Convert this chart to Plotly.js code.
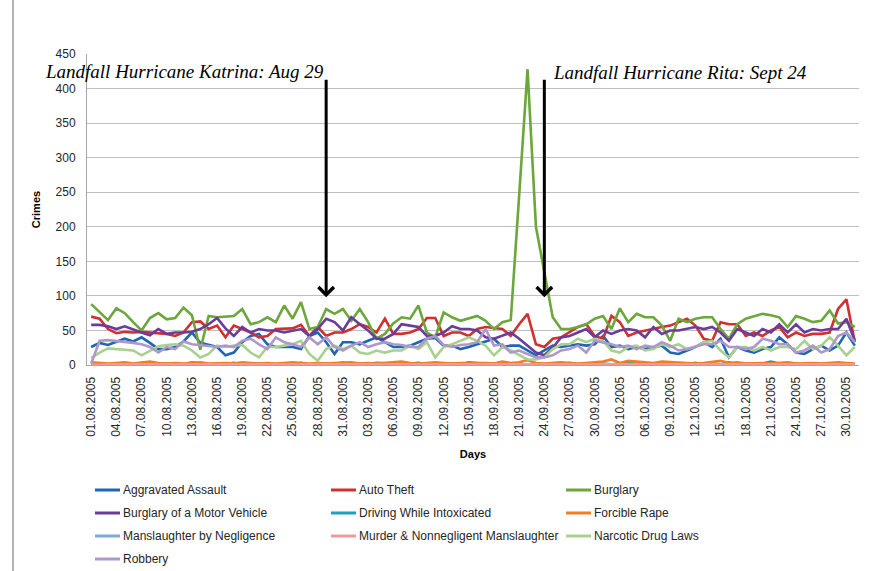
<!DOCTYPE html>
<html>
<head>
<meta charset="utf-8">
<script src="https://cdn.plot.ly/plotly-3.0.1.min.js"></script>
<style>html,body{margin:0;padding:0;background:#fff;}#chart{width:869px;height:571px;}</style>
</head>
<body>
<div id="chart"></div>
<script>
// Categories: one per day, 01.08.2005 - 31.10.2005
var days = [
"01.08.2005","02.08.2005","03.08.2005","04.08.2005","05.08.2005","06.08.2005","07.08.2005","08.08.2005","09.08.2005","10.08.2005",
"11.08.2005","12.08.2005","13.08.2005","14.08.2005","15.08.2005","16.08.2005","17.08.2005","18.08.2005","19.08.2005","20.08.2005",
"21.08.2005","22.08.2005","23.08.2005","24.08.2005","25.08.2005","26.08.2005","27.08.2005","28.08.2005","29.08.2005","30.08.2005",
"31.08.2005","01.09.2005","02.09.2005","03.09.2005","04.09.2005","05.09.2005","06.09.2005","07.09.2005","08.09.2005","09.09.2005",
"10.09.2005","11.09.2005","12.09.2005","13.09.2005","14.09.2005","15.09.2005","16.09.2005","17.09.2005","18.09.2005","19.09.2005",
"20.09.2005","21.09.2005","22.09.2005","23.09.2005","24.09.2005","25.09.2005","26.09.2005","27.09.2005","28.09.2005","29.09.2005",
"30.09.2005","01.10.2005","02.10.2005","03.10.2005","04.10.2005","05.10.2005","06.10.2005","07.10.2005","08.10.2005","09.10.2005",
"10.10.2005","11.10.2005","12.10.2005","13.10.2005","14.10.2005","15.10.2005","16.10.2005","17.10.2005","18.10.2005","19.10.2005",
"20.10.2005","21.10.2005","22.10.2005","23.10.2005","24.10.2005","25.10.2005","26.10.2005","27.10.2005","28.10.2005","29.10.2005",
"30.10.2005","31.10.2005"];

// Tick labels shown on the axis (every third day)
var tickLabels = ["01.08.2005","04.08.2005","07.08.2005","10.08.2005","13.08.2005","16.08.2005","19.08.2005","22.08.2005",
"25.08.2005","28.08.2005","31.08.2005","03.09.2005","06.09.2005","09.09.2005","12.09.2005","15.09.2005","18.09.2005",
"21.09.2005","24.09.2005","27.09.2005","30.09.2005","03.10.2005","06.10.2005","09.10.2005","12.10.2005","15.10.2005",
"18.10.2005","21.10.2005","24.10.2005","27.10.2005","30.10.2005"];

var aggravatedAssault = [26,32,29,33,38,34,40,32,23,23,26,34,47,32,29,26,14,18,33,42,
45,30,26,26,26,23,42,47,33,16,33,33,30,35,40,33,26,26,28,33,
38,39,28,28,23,26,30,35,38,26,28,28,21,14,21,28,26,28,30,28,
30,42,26,28,23,26,23,26,28,18,16,21,26,33,26,38,11,26,21,18,
23,26,40,30,18,16,23,28,21,28,47,28];

var autoTheft = [70,67,52,46,48,47,48,47,47,45,42,47,62,63,52,57,40,57,52,47,
40,42,52,53,53,58,42,55,42,47,47,52,59,55,47,67,45,45,47,52,
68,68,42,47,47,42,52,55,53,52,42,59,74,30,26,38,40,47,55,59,
42,38,71,62,42,47,50,52,55,57,62,67,57,38,35,62,59,59,42,47,
42,50,55,40,47,42,45,45,47,81,95,33];

var burglary = [88,77,65,82,75,62,50,68,75,66,68,83,72,22,71,69,70,71,81,59,
62,69,62,86,67,91,52,55,81,74,81,64,81,62,38,45,60,69,67,86,
47,40,76,69,64,67,71,64,52,62,65,245,428,200,135,69,52,52,55,59,
67,71,52,82,62,74,69,69,57,35,67,62,67,69,69,52,38,59,67,71,
74,72,69,55,71,67,62,64,79,60,62,55];

var burglaryMV = [58,58,56,52,56,51,47,43,52,45,47,47,48,52,59,68,53,42,55,47,
52,50,50,47,50,52,42,52,67,62,50,69,59,50,38,38,45,59,57,55,
42,42,47,56,52,52,50,40,38,42,47,38,28,18,14,25,40,42,47,52,
40,50,45,50,52,50,40,55,45,50,50,52,55,52,55,47,35,52,47,42,
52,47,59,47,59,47,52,50,52,52,67,35];

var dwi = [1,2,1,0,2,1,3,1,0,2,1,1,4,2,1,0,2,3,1,1,
2,0,1,2,1,3,1,0,2,1,4,1,2,1,3,2,1,1,2,3,
1,2,1,2,1,4,3,1,2,1,2,1,0,1,1,2,1,3,1,2,
1,2,1,2,3,2,1,2,1,2,1,1,3,1,2,1,4,1,2,1,
2,5,2,1,2,1,2,1,1,2,1,1];

var forcibleRape = [4,3,2,3,4,2,3,5,3,2,3,2,3,4,2,3,3,2,4,3,
2,3,2,3,4,3,2,3,2,3,3,4,2,3,2,3,4,5,3,2,
3,4,3,2,3,3,4,3,2,5,3,4,7,3,2,3,4,3,2,3,
4,5,8,3,6,5,4,3,5,4,3,3,2,3,4,6,3,4,2,3,
3,2,3,4,2,3,3,2,3,4,3,2];

var manslaughterNeg = [0,0,1,0,0,0,0,1,0,0,0,0,0,1,0,0,0,0,0,1,
0,0,0,0,1,0,0,0,0,0,1,0,0,0,0,0,1,0,0,0,
0,0,1,0,0,0,0,0,1,0,0,0,0,1,0,0,0,0,0,1,
0,0,0,0,1,0,0,0,0,0,0,1,0,0,0,0,0,1,0,0,
0,0,0,1,0,0,0,0,0,1,0,0];

var murder = [1,0,1,1,0,1,0,1,1,0,1,0,1,0,1,1,0,1,0,1,
1,0,1,0,1,0,1,1,0,1,0,1,1,0,1,0,1,0,1,1,
0,1,0,1,1,0,1,0,1,0,1,1,0,1,0,1,0,1,1,0,
1,0,1,1,0,1,0,1,0,1,1,0,1,0,1,0,1,1,0,1,
0,1,0,1,1,0,1,0,1,0,1,1];

var narcotics = [10,18,24,23,21,21,14,21,27,29,30,28,21,11,16,28,26,28,29,18,
11,26,26,28,30,35,16,6,23,28,23,28,18,16,21,18,21,21,28,23,
33,11,26,30,35,40,35,28,14,26,21,14,8,8,11,23,30,30,38,33,
38,35,21,18,26,28,21,23,30,26,30,23,26,33,35,21,11,26,26,21,
26,21,26,26,23,35,23,28,40,28,14,26];

var robbery = [2,35,36,35,34,32,30,26,18,26,23,34,30,29,28,26,28,26,35,38,
30,23,40,33,30,26,40,30,40,26,21,28,33,26,30,33,30,29,26,26,
38,42,29,26,29,30,33,52,28,30,18,21,16,11,11,14,21,23,28,18,
35,33,30,26,28,23,28,26,33,28,21,23,26,30,30,35,26,26,23,26,
38,35,30,30,18,21,28,18,23,42,47,33];

var seriesNames = ["Aggravated Assault","Auto Theft","Burglary","Burglary of a Motor Vehicle",
"Driving While Intoxicated","Forcible Rape","Manslaughter by Negligence",
"Murder & Nonnegligent Manslaughter","Narcotic Drug Laws","Robbery"];
var seriesValues = [aggravatedAssault, autoTheft, burglary, burglaryMV, dwi, forcibleRape,
manslaughterNeg, murder, narcotics, robbery];
var seriesColors = ["#1F66B2","#D22F2F","#6BA73A","#6A3C9C","#1FA0C0","#F47C24",
"#7FA9DC","#EE9A9A","#A9D18E","#AE98CB"];

var annotationTexts = ["Landfall Hurricane Katrina: Aug 29", "Landfall Hurricane Rita: Sept 24"];
var eventDays = ["29.08.2005", "24.09.2005"];

var traces = seriesNames.map(function(name, i) {
  return {
    type: "scatter", mode: "lines", name: name, showlegend: false,
    x: days, y: seriesValues[i],
    line: {color: seriesColors[i], width: 2.6}
  };
});

// geometry helpers (pixel -> paper)
var W = 869, H = 571, ML = 87, MR = 10, MT = 54, MB = 206;
var PW = W - ML - MR, PH = H - MT - MB;
function px(x) { return (x - ML) / PW; }
function py(y) { return (H - MB - y) / PH; }

var font = "Liberation Sans, Arial, sans-serif";
var serif = "Liberation Serif, Times New Roman, serif";

var annotations = [
  {xref: "paper", yref: "paper", x: px(184), y: py(71), xanchor: "center", yanchor: "middle",
   text: "<i>" + annotationTexts[0] + "</i>", showarrow: false,
   font: {family: serif, size: 19, color: "#000"}},
  {xref: "paper", yref: "paper", x: px(680), y: py(72), xanchor: "center", yanchor: "middle",
   text: "<i>" + annotationTexts[1] + "</i>", showarrow: false,
   font: {family: serif, size: 19, color: "#000"}},
  {xref: "x", yref: "y", x: eventDays[0], y: 98, ax: 0, ay: -219, text: "",
   showarrow: true, arrowhead: 4, arrowsize: 1.0, arrowwidth: 3, arrowcolor: "#000"},
  {xref: "x", yref: "y", x: eventDays[1], y: 98, ax: 0, ay: -219, text: "",
   showarrow: true, arrowhead: 4, arrowsize: 1.0, arrowwidth: 3, arrowcolor: "#000"}
];
var shapes = [
  {type: "line", xref: "paper", yref: "paper", x0: px(13), x1: px(13), y0: py(-5), y1: py(580),
   line: {color: "#9A9A9A", width: 1.5}}
];

// legend laid out in three columns
var legCols = [95, 331, 566], legRows = [490, 513, 536, 559];
seriesNames.forEach(function(name, i) {
  var cx = legCols[i % 3], cy = legRows[Math.floor(i / 3)];
  shapes.push({type: "line", xref: "paper", yref: "paper",
    x0: px(cx), x1: px(cx + 25), y0: py(cy), y1: py(cy),
    line: {color: seriesColors[i], width: 3}});
  annotations.push({xref: "paper", yref: "paper", x: px(cx + 26), y: py(cy),
    xanchor: "left", yanchor: "middle", text: name, showarrow: false,
    font: {family: font, size: 12, color: "#262626"}});
});

var layout = {
  width: W, height: H,
  margin: {l: ML, r: MR, t: MT, b: MB},
  paper_bgcolor: "#ffffff", plot_bgcolor: "#ffffff",
  font: {family: font, size: 12, color: "#262626"},
  showlegend: false,
  xaxis: {
    type: "category", range: [-0.5, 91.5],
    tickmode: "array", tickvals: tickLabels, ticktext: tickLabels,
    tickangle: -90, tickfont: {family: font, size: 12, color: "#262626"},
    showgrid: false, showline: true, linecolor: "#A6A6A6", linewidth: 1,
    ticks: "", zeroline: false, ticklabelstandoff: 6,
    title: {text: "Days", font: {family: font, size: 11, color: "#000", weight: "bold"}, standoff: 14}
  },
  yaxis: {
    range: [0, 450], dtick: 50, tick0: 0,
    tickfont: {family: font, size: 12, color: "#262626"},
    showgrid: true, gridcolor: "#BFBFBF", gridwidth: 1,
    showline: true, linecolor: "#A6A6A6", linewidth: 1,
    zeroline: false, ticks: "", ticklabelstandoff: 8,
    title: {text: "Crimes", font: {family: font, size: 11, color: "#000", weight: "bold"}, standoff: 12}
  },
  annotations: annotations,
  shapes: shapes
};

Plotly.newPlot("chart", traces, layout, {displayModeBar: false, staticPlot: true});
</script>
</body>
</html>
